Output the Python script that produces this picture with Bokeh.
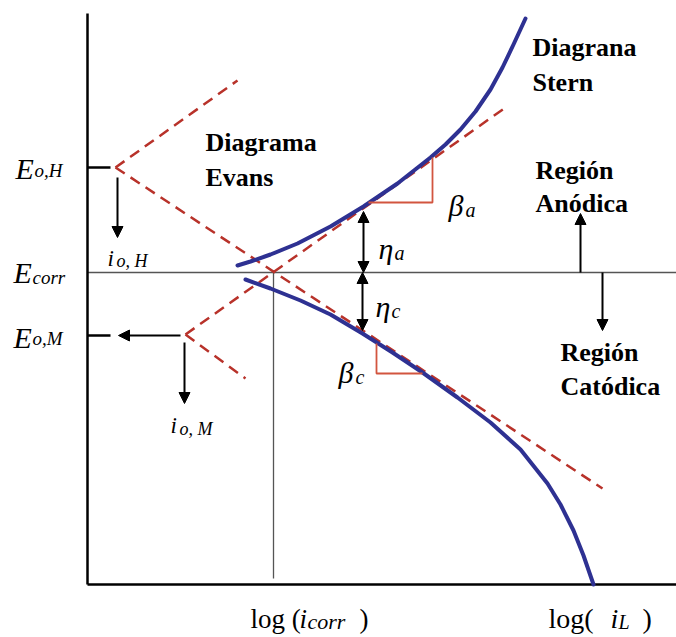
from bokeh.plotting import figure
from bokeh.models import Range1d, ColumnDataSource, Arrow, NormalHead
from bokeh.core.properties import value
from bokeh.embed import file_html
from bokeh.resources import INLINE

# ---- polarisation data (x: log i, arbitrary decades; y: potential, Ecorr = 0) ----
log_i_anodic = [1.50, 1.63, 1.83, 2.10, 2.43, 2.76, 3.10, 3.43, 3.58, 3.73, 3.88, 4.03, 4.15, 4.26, 4.38]
E_anodic = [0.07, 0.11, 0.18, 0.29, 0.46, 0.66, 0.89, 1.15, 1.28, 1.43, 1.61, 1.83, 2.05, 2.28, 2.54]

log_i_cathodic = [1.58, 1.83, 2.13, 2.43, 2.75, 3.05, 3.35, 3.70, 4.03, 4.33, 4.60, 4.73, 4.86, 4.96, 5.06]
E_cathodic = [-0.07, -0.16, -0.28, -0.42, -0.61, -0.80, -1.00, -1.25, -1.50, -1.77, -2.11, -2.32, -2.58, -2.83, -3.12]

# Tafel (Evans) straight lines: H anodic, H cathodic, M anodic, M cathodic
tafel_x0 = [0.28, 0.28, 0.98, 0.98]
tafel_y0 = [1.05, 1.05, -0.62, -0.62]
tafel_x1 = [1.50, 5.15, 4.18, 1.58]
tafel_y1 = [1.92, -2.16, 1.65, -1.06]

# characteristic potentials / currents
E_oH = 1.05
E_corr = 0.0
E_oM = -0.63
log_i_corr = 1.86
log_i_L = 5.06
E_min, E_max = -3.12, 2.59
log_i_max = 5.89

# Tafel slope triangles (two legs each)
slope_a_x = [2.81, 3.45, 3.45]
slope_a_y = [0.70, 0.70, 1.15]
slope_c_x = [2.89, 2.89, 3.35]
slope_c_y = [-0.71, -1.01, -1.01]

BLUE = "#2e3192"
RED = "#b8322a"
TRI = "#d2553f"

p = figure(width=676, height=637, min_border=0,
           x_range=Range1d(-0.87, 5.89), y_range=Range1d(-3.65, 2.72),
           x_axis_type=None, y_axis_type=None,
           toolbar_location=None, output_backend="svg",
           outline_line_color=None, background_fill_color="white")
p.grid.visible = False

# reference lines
p.line([0, log_i_max], [E_corr, E_corr], line_color="#555555", line_width=1.3)
p.line([log_i_corr, log_i_corr], [E_corr, E_min + 0.06], line_color="#555555", line_width=1.3)

# axes
p.line([0, 0], [E_min, E_max], line_color="black", line_width=2.5)
p.line([0, log_i_max], [E_min, E_min], line_color="black", line_width=2.5)
p.line([0, 0.23], [E_oH, E_oH], line_color="black", line_width=2.5)
p.line([0, 0.23], [E_oM, E_oM], line_color="black", line_width=2.5)

# Evans lines
p.segment(x0=tafel_x0, y0=tafel_y0, x1=tafel_x1, y1=tafel_y1,
          line_color=RED, line_width=2.5, line_dash="11 7")

# Stern curves
p.line(log_i_anodic, E_anodic, line_color=BLUE, line_width=4, line_join="round", line_cap="round")
p.line(log_i_cathodic, E_cathodic, line_color=BLUE, line_width=4, line_join="round", line_cap="round")

# slope triangles
p.line(slope_a_x, slope_a_y, line_color=TRI, line_width=1.8)
p.line(slope_c_x, slope_c_y, line_color=TRI, line_width=1.8)

# arrows
single = ColumnDataSource(dict(
    x0=[0.30, 0.93, 0.97, 4.93, 5.15],
    y0=[0.95, E_oM, -0.70, E_corr, E_corr],
    x1=[0.30, 0.31, 0.97, 4.93, 5.15],
    y1=[0.35, E_oM, -1.31, 0.59, -0.58],
))
p.add_layout(Arrow(source=single, x_start="x0", y_start="y0", x_end="x1", y_end="y1",
                   line_color="black", line_width=2,
                   end=NormalHead(size=11, fill_color="black", line_color="black", line_width=1)))
double = ColumnDataSource(dict(
    x0=[2.76, 2.75], y0=[E_corr, E_corr], x1=[2.76, 2.75], y1=[0.61, -0.58],
))
p.add_layout(Arrow(source=double, x_start="x0", y_start="y0", x_end="x1", y_end="y1",
                   line_color="black", line_width=2,
                   start=NormalHead(size=11, fill_color="black", line_color="black", line_width=1),
                   end=NormalHead(size=11, fill_color="black", line_color="black", line_width=1)))


def label(x, y, txt, size, style="normal", font="Liberation Serif", align="left"):
    p.text(x=[x], y=[y], text=[txt], text_font=value(font), text_font_size=value(size),
           text_font_style=style, text_color="black", text_baseline="alphabetic",
           text_align=align)


# bold block labels
for (x, y, t) in [(1.18, 1.30, "Diagrama"), (1.18, 0.95, "Evans"),
                  (4.45, 2.25, "Diagrana"), (4.45, 1.90, "Stern"),
                  (4.48, 1.02, "Región"), (4.48, 0.69, "Anódica"),
                  (4.73, -0.80, "Región"), (4.73, -1.14, "Catódica")]:
    label(x, y, t, "26px", "bold")

# potential labels on the E axis
label(-0.72, E_oH - 0.01, "E", "30px", "italic")
label(-0.53, E_oH - 0.03, "o,H", "19px", "italic")
label(-0.74, E_corr, "E", "30px", "italic")
label(-0.55, E_corr - 0.05, "corr", "19px", "italic")
label(-0.74, E_oM - 0.02, "E", "30px", "italic")
label(-0.55, E_oM - 0.03, "o,M", "19px", "italic")

# exchange current labels
label(0.20, 0.14, "i", "23px", "italic")
label(0.29, 0.12, "o, H", "18px", "italic")
label(0.83, -1.53, "i", "23px", "italic")
label(0.92, -1.56, "o, M", "18px", "italic")

# overpotentials and Tafel slopes
label(2.91, 0.24, "η", "30px", "italic")
label(3.07, 0.20, "a", "20px", "italic")
label(2.88, -0.34, "η", "30px", "italic")
label(3.04, -0.38, "c", "20px", "italic")
label(3.61, 0.67, "β", "30px", "italic")
label(3.78, 0.63, "a", "20px", "italic")
label(2.51, -1.00, "β", "30px", "italic")
label(2.68, -1.04, "c", "20px", "italic")

# current labels under the axis
yb = E_min - 0.34
label(1.63, yb, "log (", "27px")
label(2.12, yb, "i", "27px", "italic")
label(2.20, yb - 0.03, "corr", "22px", "italic")
label(2.72, yb, ")", "27px")
label(4.61, yb, "log(", "28px")
label(5.23, yb, "i", "28px", "italic")
label(5.31, yb - 0.03, "L", "20px", "italic")
label(5.55, yb, ")", "28px")

open("out.html", "w").write(file_html(p, INLINE))
